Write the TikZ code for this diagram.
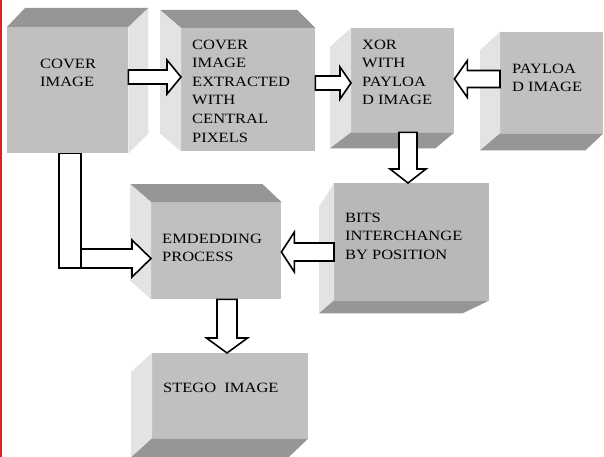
\documentclass[tikz,border=0pt]{standalone}
\usepackage{fontspec}
\setmainfont{Liberation Serif}[FakeStretch=1.16]
\usetikzlibrary{calc}

\definecolor{facefront}{gray}{0.753}
\definecolor{facedark}{gray}{0.59}
\definecolor{facelight}{gray}{0.89}
\definecolor{edgered}{RGB}{222,32,32}

\tikzset{
  front/.style={fill=facefront, draw=none, inner sep=0pt, anchor=north west},
  darkface/.style={fill=facedark},
  lightface/.style={fill=facelight},
  boxtext/.style={anchor=north west, inner sep=0pt, align=left,
                  font=\fontsize{14.2}{18.6}\selectfont},
  arrowbody/.style={draw=black, fill=white, line width=1.6pt, line join=miter},
}

% hollow block arrow: tail, tip, shaft half-width, head half-width, head length
\newcommand\blockarrow[5]{%
  \coordinate (ba-h) at ($(#2)!#5!(#1)$);
  \draw[arrowbody] ($(#1)!#3!90:(#2)$) -- ($(ba-h)!#3!-90:(#1)$)
    -- ($(ba-h)!#4!-90:(#1)$) -- (#2) -- ($(ba-h)!#4!90:(#1)$)
    -- ($(ba-h)!#3!90:(#1)$) -- ($(#1)!#3!-90:(#2)$) -- cycle;}

\begin{document}
\begin{tikzpicture}[x=1pt, y=-1pt]
\useasboundingbox (0,0) rectangle (604,457);
\fill[white] (0,0) rectangle (604,457);
\draw[edgered, line width=1.5pt] (1,0) -- (1,457);

% ---- front faces ----
\node[front, minimum width=121pt, minimum height=126pt] (b1) at (7,27) {};
\node[front, minimum width=134pt, minimum height=123pt] (b2) at (181,28) {};
\node[front, minimum width=103pt, minimum height=104pt] (b3) at (351,28) {};
\node[front, minimum width=103pt, minimum height=101pt] (b4) at (500,32) {};
\node[front, minimum width=155pt, minimum height=117pt, fill=facefront!96!black] (b5) at (334,183) {};
\node[front, minimum width=130pt, minimum height=97pt] (b6) at (151,202) {};
\node[front, minimum width=156pt, minimum height=85pt] (b7) at (152,353) {};

% ---- bevel faces ----
% cover image: top and right
\fill[darkface] (b1.north west) -- ++(18,-19) -- ($(b1.north east)+(20,-19)$) -- (b1.north east) -- cycle;
\fill[lightface] (b1.north east) -- ++(20,-19) -- ($(b1.south east)+(20,-20)$) -- (b1.south east) -- cycle;
% extracted: top and left
\fill[darkface] (b2.north west) -- ++(-21,-18) -- ($(b2.north east)+(-18,-18)$) -- (b2.north east) -- cycle;
\fill[lightface] (b2.north west) -- ++(-21,-18) -- ($(b2.south west)+(-21,-18)$) -- (b2.south west) -- cycle;
% xor: left and bottom
\fill[lightface] (b3.north west) -- ++(-21,19) -- ($(b3.south west)+(-21,16)$) -- (b3.south west) -- cycle;
\fill[darkface] (b3.south west) -- ++(-21,16) -- ($(b3.south east)+(-19,16)$) -- (b3.south east) -- cycle;
% payload: left and bottom
\fill[lightface] (b4.north west) -- ++(-20,18) -- ($(b4.south west)+(-20,17)$) -- (b4.south west) -- cycle;
\fill[darkface] (b4.south west) -- ++(-20,17) -- ($(b4.south east)+(-18,17)$) -- (b4.south east) -- cycle;
% bits interchange: left and bottom
\fill[lightface] (b5.north west) -- ++(-15,24) -- ($(b5.south west)+(-15,13)$) -- (b5.south west) -- cycle;
\fill[darkface] (b5.south west) -- ++(-15,13) -- ($(b5.south east)+(-27,13)$) -- (b5.south east) -- cycle;
% embedding: top and left
\fill[darkface] (b6.north west) -- ++(-21,-18) -- ($(b6.north east)+(-19,-18)$) -- (b6.north east) -- cycle;
\fill[lightface] (b6.north west) -- ++(-21,-18) -- ($(b6.south west)+(-21,-19)$) -- (b6.south west) -- cycle;
% stego: left and bottom
\fill[lightface] (b7.north west) -- ++(-21,19) -- ($(b7.south west)+(-21,19)$) -- (b7.south west) -- cycle;
\fill[darkface] (b7.south west) -- ++(-21,19) -- ($(b7.south east)+(-20,19)$) -- (b7.south east) -- cycle;

% ---- labels ----
\node[boxtext] (t1) at (40,58.5) {COVER\\IMAGE};
\node[boxtext] (t2) at (192,39.5) {COVER\\IMAGE\\EXTRACTED\\WITH\\CENTRAL\\PIXELS};
\node[boxtext] (t3) at (362,39.5) {XOR\\WITH\\PAYLOA\\D IMAGE};
\node[boxtext] (t4) at (512,63.5) {PAYLOA\\D IMAGE};
\node[boxtext] (t5) at (345,212.5) {BITS\\INTERCHANGE\\BY POSITION};
\node[boxtext] (t6) at (162,233.5) {EMDEDDING\\PROCESS};
\node[boxtext] (t7) at (163,382.5) {STEGO\ \ IMAGE};

% ---- arrow end points ----
\coordinate (aT) at (b1.east |- 0,77);   \coordinate (aP) at (b2.west |- 0,77);
\coordinate (bT) at (b2.east |- 0,83);   \coordinate (bP) at (b3.west |- 0,83);
\coordinate (cT) at (b4.west |- 0,79);   \coordinate (cP) at (b3.east |- 0,79);
\coordinate (dT) at (b3.south -| 408,0); \coordinate (dP) at (b5.north -| 408,0);
\coordinate (eT) at (b5.west |- 0,252);  \coordinate (eP) at (b6.east |- 0,252);
\coordinate (fA) at (b1.south -| 59,0);  \coordinate (fB) at (81,268);
\coordinate (fT) at (81,258.5);          \coordinate (fP) at (b6.west |- 0,258.5);
\coordinate (gT) at (b6.south -| 227,0); \coordinate (gP) at (b7.north -| 227,0);

% ---- arrows ----
\blockarrow{aT}{aP}{7pt}{17pt}{14pt}
\blockarrow{bT}{bP}{7pt}{16pt}{11pt}
\blockarrow{cT}{cP}{8.5pt}{18.5pt}{13pt}
\blockarrow{dT}{dP}{9pt}{18pt}{14pt}
\blockarrow{eT}{eP}{9pt}{20pt}{13pt}
\draw[arrowbody] (fA) rectangle (fB);
\blockarrow{fT}{fP}{9.5pt}{18.5pt}{19pt}
\blockarrow{gT}{gP}{10pt}{20.5pt}{15pt}
\end{tikzpicture}
\end{document}
